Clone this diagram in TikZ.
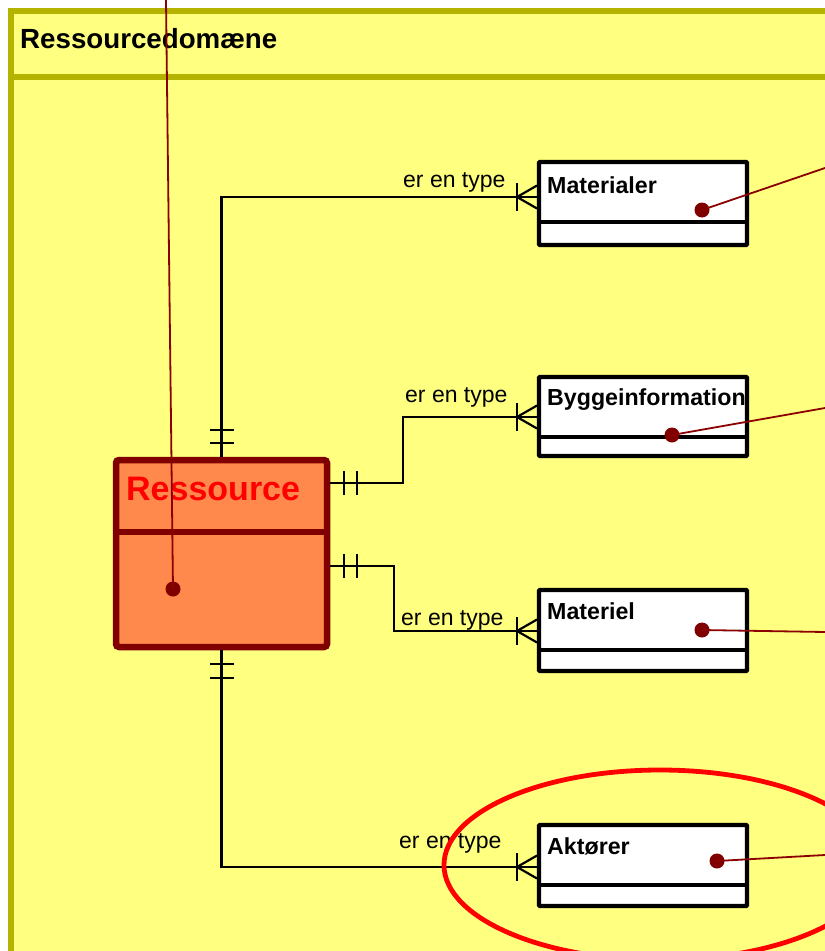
\documentclass[tikz,border=0pt]{standalone}
\usepackage{fontspec}
\setmainfont{Liberation Sans}
\usetikzlibrary{shapes.geometric}
\definecolor{framefill}{RGB}{255,255,128}
\definecolor{frameline}{RGB}{180,180,0}
\definecolor{resfill}{RGB}{255,136,77}
\definecolor{resline}{RGB}{128,0,0}
\definecolor{annot}{RGB}{139,0,0}
\begin{document}
\begin{tikzpicture}[x=1pt,y=-1pt,
  frame/.style={draw=frameline, fill=framefill, line width=6.5pt, outer sep=0pt},
  ent/.style={draw=black, fill=white, line width=4.2pt, minimum width=208pt, inner sep=0pt, rounded corners=0.8pt},
  sepline/.style={draw=black, line width=3.6pt},
  conn/.style={draw=black, line width=2.2pt},
  tick/.style={draw=black, line width=2.2pt},
  lbl/.style={font=\fontsize{23}{27}\selectfont, anchor=base west, inner sep=0pt},
  ttl/.style={font=\fontsize{23.2}{27}\selectfont\bfseries, anchor=base west, inner sep=0pt},
  dot/.style={circle, fill=resline, inner sep=0pt, minimum size=15pt},
  ann/.style={draw=annot, line width=1.8pt},
]
\useasboundingbox (0,0) rectangle (825,951);
\clip (0,0) rectangle (825,951);

% outer frame
\node[frame, minimum width=900pt, minimum height=1000pt, anchor=north west, inner sep=0pt] (frm) at (11,11) {};
\draw[frameline, line width=6.5pt] (11,77) -- (900,77);
\node[font=\fontsize{27.7}{32}\selectfont\bfseries, anchor=base west, inner sep=0pt] (frmtitle) at (20,48) {Ressourcedomæne};

% Ressource entity
\node[draw=resline, fill=resfill, line width=6.5pt, rounded corners=3pt, minimum width=211pt, minimum height=187pt, inner sep=0pt] (res) at (221.5,553.5) {};
\draw[resline, line width=6.5pt] (116,532) -- (327,532);
\node[font=\fontsize{34}{38}\selectfont\bfseries, text=red, anchor=base west, inner sep=0pt] (restitle) at (126,500) {Ressource};

% entities
\node[ent, minimum height=83pt] (mat) at (643,203.5) {};
\draw[sepline] (539,222) -- (747,222);
\node[ttl] (mattitle) at (547,193) {Materialer};

\node[ent, minimum height=79pt] (byg) at (643,416.5) {};
\draw[sepline] (539,437) -- (747,437);
\node[ttl] (bygtitle) at (547,405) {Byggeinformation};

\node[ent, minimum height=81pt] (mel) at (643,630.5) {};
\draw[sepline] (539,650) -- (747,650);
\node[ttl] (meltitle) at (547,619) {Materiel};

\node[ent, minimum height=81pt] (akt) at (643,865.5) {};
\draw[sepline] (539,885) -- (747,885);
\node[ttl] (akttitle) at (547,854) {Aktører};

% connection points on entities
\coordinate (matin) at (mat.west |- 0,197);
\coordinate (bygin) at (byg.west |- 0,417);
\coordinate (melin) at (mel.west |- 0,631);
\coordinate (aktin) at (akt.west |- 0,867);

% connectors
\draw[conn] (res.north) |- (matin);
\draw[conn] (res.east |- 0,483) -- (403,483) |- (bygin);
\draw[conn] (res.east |- 0,566) -- (394,566) |- (melin);
\draw[conn] (res.south) |- (aktin);

% ticks (one and only one) near Ressource
\foreach \t in {430,443}{\draw[tick] (210,\t) -- (234,\t);}
\foreach \t in {664,678}{\draw[tick] (210,\t) -- (234,\t);}
\foreach \t in {344,357}{\draw[tick] (\t,471) -- (\t,495); \draw[tick] (\t,554) -- (\t,578);}

% crow's feet (one or many) at entities
\foreach \y in {197,417,631,867}{
  \draw[conn] (517,\y-14) -- (517,\y+14);
  \draw[conn] (537,\y-11.5) -- (517,\y) -- (537,\y+11.5);
}

% labels
\node[lbl] (l1) at (403,187) {er en type};
\node[lbl] (l2) at (405,402) {er en type};
\node[lbl] (l3) at (401,625) {er en type};
\node[lbl] (l4) at (399,848) {er en type};

% annotation dots and lines
\node[dot] (d0) at (173,589) {};
\node[dot] (d1) at (702,210) {};
\node[dot] (d2) at (672,435) {};
\node[dot] (d3) at (702,630) {};
\node[dot] (d4) at (717,861) {};
\coordinate (e0) at (166,0);
\coordinate (e1) at (825,168);
\coordinate (e2) at (825,408);
\coordinate (e3) at (825,632);
\coordinate (e4) at (825,855);
\draw[ann] (d0.center) -- (e0);
\draw[ann] (d1.center) -- (e1);
\draw[ann] (d2.center) -- (e2);
\draw[ann] (d3.center) -- (e3);
\draw[ann] (d4.center) -- (e4);

% highlight ellipse
\node[draw=red, ellipse, line width=4.8pt, minimum width=432pt, minimum height=190pt, inner sep=0pt] (hl) at (660,865) {};
\end{tikzpicture}
\end{document}
